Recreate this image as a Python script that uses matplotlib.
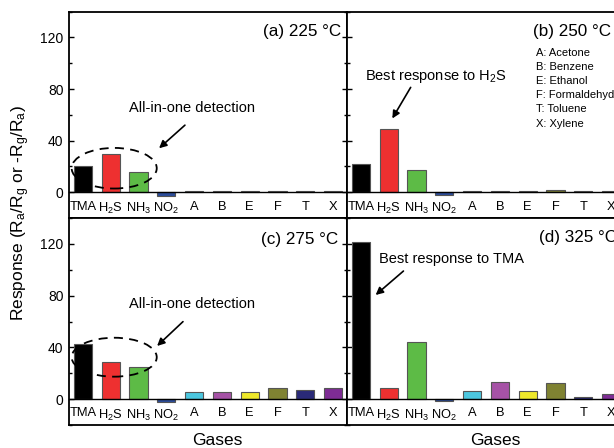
import matplotlib.pyplot as plt
from matplotlib.patches import Ellipse
from matplotlib.ticker import MultipleLocator

plt.rcParams['font.family'] = ['Liberation Sans', 'DejaVu Sans']
plt.rcParams['mathtext.fontset'] = 'custom'
plt.rcParams['mathtext.rm'] = 'Liberation Sans'
plt.rcParams['mathtext.it'] = 'Liberation Sans'
plt.rcParams['mathtext.bf'] = 'Liberation Sans:bold'

gases = ['TMA', 'H$_\\mathregular{2}$S', 'NH$_\\mathregular{3}$', 'NO$_\\mathregular{2}$',
         'A', 'B', 'E', 'F', 'T', 'X']
colors = ['#000000', '#ee3030', '#5dbb46', '#2b4c9a', '#4cc7df',
          '#a652a6', '#eee82a', '#7f8232', '#2a2a78', '#7e2c94']

resp_225 = [20.2, 30.0, 16.0, -3.0, 0.8, 0.7, 0.7, 0.8, 0.7, 0.8]
resp_250 = [21.8, 49.0, 17.2, -2.5, 0.7, 1.0, 0.6, 1.4, 1.3, 1.3]
resp_275 = [42.5, 28.4, 24.6, -2.3, 5.4, 5.6, 5.6, 8.7, 7.4, 8.8]
resp_325 = [121.5, 8.7, 44.3, -1.3, 6.1, 13.0, 6.1, 12.5, 2.0, 4.0]

panel_titles = ['(a) 225 °C', '(b) 250 °C', '(c) 275 °C', '(d) 325 °C']
legend_lines = ['A: Acetone', 'B: Benzene', 'E: Ethanol',
                'F: Formaldehyde', 'T: Toluene', 'X: Xylene']

fig = plt.figure(figsize=(6.14, 4.48), dpi=100)

W = 278 / 614
x_left = 69 / 614
x_right = 347 / 614
h_top = 206.3 / 448
h_bot = 207 / 448
y_top = 1 - 218 / 448
y_bot = 1 - 425 / 448

ax_a = fig.add_axes([x_left, y_top, W, h_top])
ax_b = fig.add_axes([x_right, y_top, W, h_top])
ax_c = fig.add_axes([x_left, y_bot, W, h_bot])
ax_d = fig.add_axes([x_right, y_bot, W, h_bot])

axes = [ax_a, ax_b, ax_c, ax_d]
data = [resp_225, resp_250, resp_275, resp_325]
title_x = [0.698, 0.668, 0.69, 0.69]
title_y = [0.905, 0.905, 0.897, 0.907]

for i, ax in enumerate(axes):
    x = range(len(gases))
    ax.bar(x, data[i], width=0.65, color=colors, edgecolor='#555555', linewidth=0.8, zorder=2)
    ax.set_xlim(-0.5, 9.5)
    ax.set_ylim(-20, 140)
    ax.yaxis.set_major_locator(MultipleLocator(40))
    ax.yaxis.set_minor_locator(MultipleLocator(20))
    ax.tick_params(axis='y', which='both', direction='in', right=True, width=1, labelsize=10, pad=4)
    ax.tick_params(axis='y', which='major', length=3.8)
    ax.tick_params(axis='y', which='minor', length=2.2)
    ax.set_xticks(list(x))
    ax.set_xticklabels(gases)
    ax.tick_params(axis='x', length=0, labelsize=9.3, pad=6)
    for s in ['left', 'right', 'top']:
        ax.spines[s].set_linewidth(1.3)
    ax.spines['bottom'].set_position(('data', 0))
    ax.spines['bottom'].set_linewidth(1.0)
    ax.spines['bottom'].set_zorder(3)
    ax.plot([0, 1], [0, 0], transform=ax.transAxes, color='k', lw=1.3, clip_on=False)
    if i % 2 == 1:
        ax.tick_params(axis='y', labelleft=False)
    ax.text(title_x[i], title_y[i], panel_titles[i], transform=ax.transAxes,
            fontsize=12.3, ha='left', va='center')

arrow = dict(arrowstyle='-|>', color='k', lw=1.2, mutation_scale=11, shrinkA=0, shrinkB=0)

# (a)
ax_a.text(3.94, 65.2, 'All-in-one detection', fontsize=10.5, ha='center', va='center')
ax_a.annotate('', xy=(2.74, 34.1), xytext=(3.67, 52.0), arrowprops=arrow)
ax_a.add_patch(Ellipse((1.126, 18.6), 3.06, 31.5, fill=False, ls=(0, (5, 3.5)),
                       lw=1.3, color='k', zorder=4))

# (b)
ax_b.text(2.71, 89.5, 'Best response to H$_\\mathregular{2}$S', fontsize=10.5, ha='center', va='center')
ax_b.annotate('', xy=(1.13, 57.2), xytext=(1.79, 81.3), arrowprops=arrow)
for j, line in enumerate(legend_lines):
    ax_b.text(0.68, 0.80 - j * 0.0685, line, transform=ax_b.transAxes,
              fontsize=8, ha='left', va='center')

# (c)
ax_c.text(3.94, 73.3, 'All-in-one detection', fontsize=10.5, ha='center', va='center')
ax_c.annotate('', xy=(2.67, 41.1), xytext=(3.60, 59.9), arrowprops=arrow)
ax_c.add_patch(Ellipse((1.126, 32.4), 3.06, 30.1, fill=False, ls=(0, (5, 3.5)),
                       lw=1.3, color='k', zorder=4))

# (d)
ax_d.text(3.26, 108.1, 'Best response to TMA', fontsize=10.5, ha='center', va='center')
ax_d.annotate('', xy=(0.53, 80.5), xytext=(1.53, 99.0), arrowprops=arrow)

fig.text(0.033, 0.525,
         'Response (R$_\\mathregular{a}$/R$_\\mathregular{g}$ or -R$_\\mathregular{g}$/R$_\\mathregular{a}$)',
         rotation=90, fontsize=12.5, ha='center', va='center')
fig.text(0.354, 0.016, 'Gases', fontsize=12.5, ha='center', va='center')
fig.text(0.806, 0.016, 'Gases', fontsize=12.5, ha='center', va='center')

fig.savefig('out.png', dpi=100)
